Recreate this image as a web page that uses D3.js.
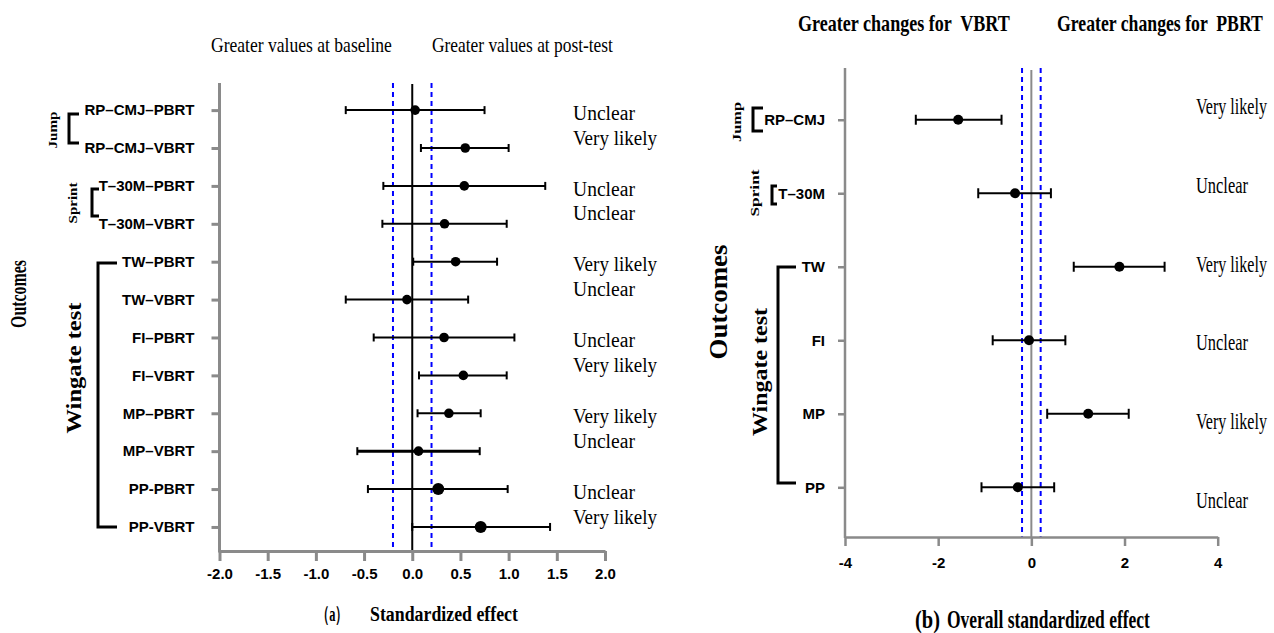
<!DOCTYPE html>
<html>
<head>
<meta charset="utf-8">
<script src="https://cdn.jsdelivr.net/npm/d3@7"></script>
<style>
  html, body { margin: 0; padding: 0; background: #fff; }
  svg { display: block; }
  .serif { font-family: "Liberation Serif", "Times New Roman", serif; white-space: pre; }
  .sans { font-family: "Liberation Sans", Arial, sans-serif; font-weight: bold; }
</style>
</head>
<body>
<svg id="chart" width="1274" height="633"></svg>
<script>
// ---- Panel (a): pre/post standardized effects per protocol ----
const outcomesA = ["RP–CMJ–PBRT", "RP–CMJ–VBRT", "T–30M–PBRT", "T–30M–VBRT",
  "TW–PBRT", "TW–VBRT", "FI–PBRT", "FI–VBRT", "MP–PBRT", "MP–VBRT", "PP-PBRT", "PP-VBRT"];
const effectA = [0.03, 0.55, 0.54, 0.335, 0.45, -0.055, 0.33, 0.53, 0.38, 0.065, 0.27, 0.71];
const lowerA  = [-0.69, 0.09, -0.30, -0.31, 0.01, -0.69, -0.40, 0.07, 0.055, -0.57, -0.46, 0.00];
const upperA  = [0.75, 1.00, 1.38, 0.98, 0.88, 0.58, 1.06, 0.98, 0.71, 0.70, 0.99, 1.43];
const inferenceA = ["Unclear", "Very likely", "Unclear", "Unclear", "Very likely", "Unclear",
  "Unclear", "Very likely", "Very likely", "Unclear", "Unclear", "Very likely"];
const ticksA = [-2.0, -1.5, -1.0, -0.5, 0.0, 0.5, 1.0, 1.5, 2.0];

// ---- Panel (b): overall between-protocol effects ----
const outcomesB = ["RP–CMJ", "T–30M", "TW", "FI", "MP", "PP"];
const effectB = [-1.57, -0.35, 1.89, -0.05, 1.22, -0.29];
const lowerB  = [-2.48, -1.14, 0.91, -0.83, 0.34, -1.07];
const upperB  = [-0.64, 0.42, 2.86, 0.73, 2.09, 0.49];
const inferenceB = ["Very likely", "Unclear", "Very likely", "Unclear", "Very likely", "Unclear"];
const ticksB = [-4, -2, 0, 2, 4];

const trivial = [-0.2, 0.2];   // smallest worthwhile change band

const svg = d3.select("#chart");
const AXIS = "#8a8a8a";
const hyphen = f => v => f(v).replace("−", "-");

// Text squeezed horizontally to a target width (the serif labels are condensed)
function label(g, o) {
  const t = g.append("text").attr("class", o.cls || "serif")
    .attr("font-size", o.size)
    .attr("font-weight", o.bold ? "bold" : null)
    .attr("text-anchor", o.anchor || "start")
    .attr("dy", o.dy || null)
    .text(o.text);
  const w = t.node().getComputedTextLength();
  const sx = o.len ? o.len / w : 1;
  t.attr("transform", `translate(${o.x},${o.y})${o.rotate ? " rotate(" + o.rotate + ")" : ""} scale(${sx},1)`);
  return t;
}

// ================= Panel (a) =================
const xA = d3.scaleLinear().domain([-2, 2]).range([219.5, 605]);
const yA = d3.scalePoint().domain(outcomesA).range([83, 551]).padding(0.675).align(0.53);
const gA = svg.append("g");

gA.append("line").attr("x1", xA(0)).attr("x2", xA(0)).attr("y1", 84).attr("y2", 551)
  .attr("stroke", "#000").attr("stroke-width", 2);
trivial.forEach(v => gA.append("line").attr("x1", xA(v)).attr("x2", xA(v)).attr("y1", 83).attr("y2", 551)
  .attr("stroke", "#0000ff").attr("stroke-width", 2).attr("stroke-dasharray", "5,4"));

const axA = gA.append("g").attr("transform", "translate(0,551)")
  .call(d3.axisBottom(xA).tickValues(ticksA).tickFormat(hyphen(d3.format(".1f"))).tickSize(10).tickSizeOuter(0));
axA.select(".domain").attr("stroke", AXIS).attr("stroke-width", 3);
axA.selectAll(".tick line").attr("stroke", AXIS).attr("stroke-width", 3);
axA.selectAll(".tick text").attr("class", "sans").attr("font-size", 15).attr("fill", "#000")
  .attr("y", 17).attr("dy", "0.71em");

const ayA = gA.append("g").attr("transform", "translate(219.5,0)")
  .call(d3.axisLeft(yA).tickSize(8).tickSizeOuter(0).tickPadding(17));
ayA.select(".domain").attr("stroke", AXIS).attr("stroke-width", 3).attr("d", "M0,83V552.5");
ayA.selectAll(".tick line").attr("stroke", AXIS).attr("stroke-width", 3);
ayA.selectAll(".tick text").attr("class", "sans").attr("font-size", 15).attr("fill", "#000");

outcomesA.forEach((o, i) => {
  const y = yA(o);
  const sw = i === 9 ? 3 : 2;
  gA.append("line").attr("x1", xA(lowerA[i])).attr("x2", xA(upperA[i])).attr("y1", y).attr("y2", y)
    .attr("stroke", "#000").attr("stroke-width", sw);
  [lowerA[i], upperA[i]].forEach(v => gA.append("line").attr("x1", xA(v)).attr("x2", xA(v))
    .attr("y1", y - 4).attr("y2", y + 4).attr("stroke", "#000").attr("stroke-width", 2));
  gA.append("circle").attr("cx", xA(effectA[i])).attr("cy", y).attr("r", i >= 10 ? 6 : 4.8).attr("fill", "#000");
  label(gA, { x: 573, y: i % 2 === 0 ? y + 3 : y - 10, dy: "0.33em", size: 20, text: inferenceA[i],
    len: inferenceA[i] === "Unclear" ? 62 : 84 });
});

label(gA, { x: 211, y: 52, size: 22, text: "Greater values at baseline", len: 181 });
label(gA, { x: 432, y: 52, size: 22, text: "Greater values at post-test", len: 181 });

label(gA, { x: 317, y: 621, size: 21, bold: true, text: "（a）", len: 31 });
label(gA, { x: 370, y: 621, size: 21, bold: true, text: "Standardized effect", len: 148 });

function bracket(g, x, y1, y2, arm, w) {
  g.append("path").attr("d", `M${x + arm},${y1}H${x}V${y2}H${x + arm}`)
    .attr("fill", "none").attr("stroke", "#000").attr("stroke-width", w);
}
function vlabel(g, x, y, size, len, txt) {
  label(g, { x, y, size, len, text: txt, bold: true, anchor: "middle", dy: "0.35em", rotate: -90 });
}
bracket(gA, 69, 114, 143, 10, 3);
bracket(gA, 92, 189, 216, 7, 3);
bracket(gA, 98, 263, 527, 19, 3);
vlabel(gA, 52, 130, 13, 37, "Jump");
vlabel(gA, 72, 203, 13, 41, "Sprint");
vlabel(gA, 74, 368, 21, 131, "Wingate test");
vlabel(gA, 18, 294, 23, 68, "Outcomes");

// ================= Panel (b) =================
const xB = d3.scaleLinear().domain([-4, 4]).range([845, 1217.7]);
const yB = d3.scalePoint().domain(outcomesB).range([68, 537]).padding(0.69).align(0.51);
const gB = svg.append("g");

gB.append("line").attr("x1", xB(0)).attr("x2", xB(0)).attr("y1", 70).attr("y2", 537)
  .attr("stroke", "#8a8a8a").attr("stroke-width", 2);
trivial.forEach(v => gB.append("line").attr("x1", xB(v)).attr("x2", xB(v)).attr("y1", 68).attr("y2", 537)
  .attr("stroke", "#0000ff").attr("stroke-width", 2).attr("stroke-dasharray", "5,4"));

const axB = gB.append("g").attr("transform", "translate(0,537)")
  .call(d3.axisBottom(xB).tickValues(ticksB).tickFormat(hyphen(d3.format("d"))).tickSize(9).tickSizeOuter(0));
axB.select(".domain").attr("stroke", AXIS).attr("stroke-width", 2.5);
axB.selectAll(".tick line").attr("stroke", AXIS).attr("stroke-width", 2.5);
axB.selectAll(".tick text").attr("class", "sans").attr("font-size", 15).attr("fill", "#000")
  .attr("y", 20).attr("dy", "0.71em");

const ayB = gB.append("g").attr("transform", "translate(845,0)")
  .call(d3.axisLeft(yB).tickSize(7).tickSizeOuter(0).tickPadding(13));
ayB.select(".domain").attr("stroke", AXIS).attr("stroke-width", 2.5).attr("d", "M0,68V538");
ayB.selectAll(".tick line").attr("stroke", AXIS).attr("stroke-width", 2.5);
ayB.selectAll(".tick text").attr("class", "sans").attr("font-size", 15).attr("fill", "#000");

const labelYB = d3.scalePoint().domain(outcomesB).range([106.7, 500]);
outcomesB.forEach((o, i) => {
  const y = yB(o);
  gB.append("line").attr("x1", xB(lowerB[i])).attr("x2", xB(upperB[i])).attr("y1", y).attr("y2", y)
    .attr("stroke", "#000").attr("stroke-width", 2);
  [lowerB[i], upperB[i]].forEach(v => gB.append("line").attr("x1", xB(v)).attr("x2", xB(v))
    .attr("y1", y - 5).attr("y2", y + 5).attr("stroke", "#000").attr("stroke-width", 2));
  gB.append("circle").attr("cx", xB(effectB[i])).attr("cy", y).attr("r", 5).attr("fill", "#000");
  label(gB, { x: 1196, y: labelYB(o), dy: "0.33em", size: 23, text: inferenceB[i],
    len: inferenceB[i] === "Unclear" ? 52 : 71 });
});

label(gB, { x: 798, y: 31, size: 23, bold: true, text: "Greater changes for  VBRT", len: 212 });
label(gB, { x: 1057, y: 31, size: 23, bold: true, text: "Greater changes for  PBRT", len: 206 });

label(gB, { x: 915, y: 628, size: 25, bold: true, text: "(b)", len: 25 });
label(gB, { x: 947, y: 628, size: 25, bold: true, text: "Overall standardized effect", len: 203 });

bracket(gB, 753, 108, 131, 10, 3);
bracket(gB, 772, 186, 204, 5, 3);
bracket(gB, 778, 267, 483, 18, 3);
vlabel(gB, 736, 122, 13, 40, "Jump");
vlabel(gB, 754, 193, 13, 47, "Sprint");
vlabel(gB, 760, 372, 21, 128, "Wingate test");
vlabel(gB, 718, 302, 26, 115, "Outcomes");
</script>
</body>
</html>
